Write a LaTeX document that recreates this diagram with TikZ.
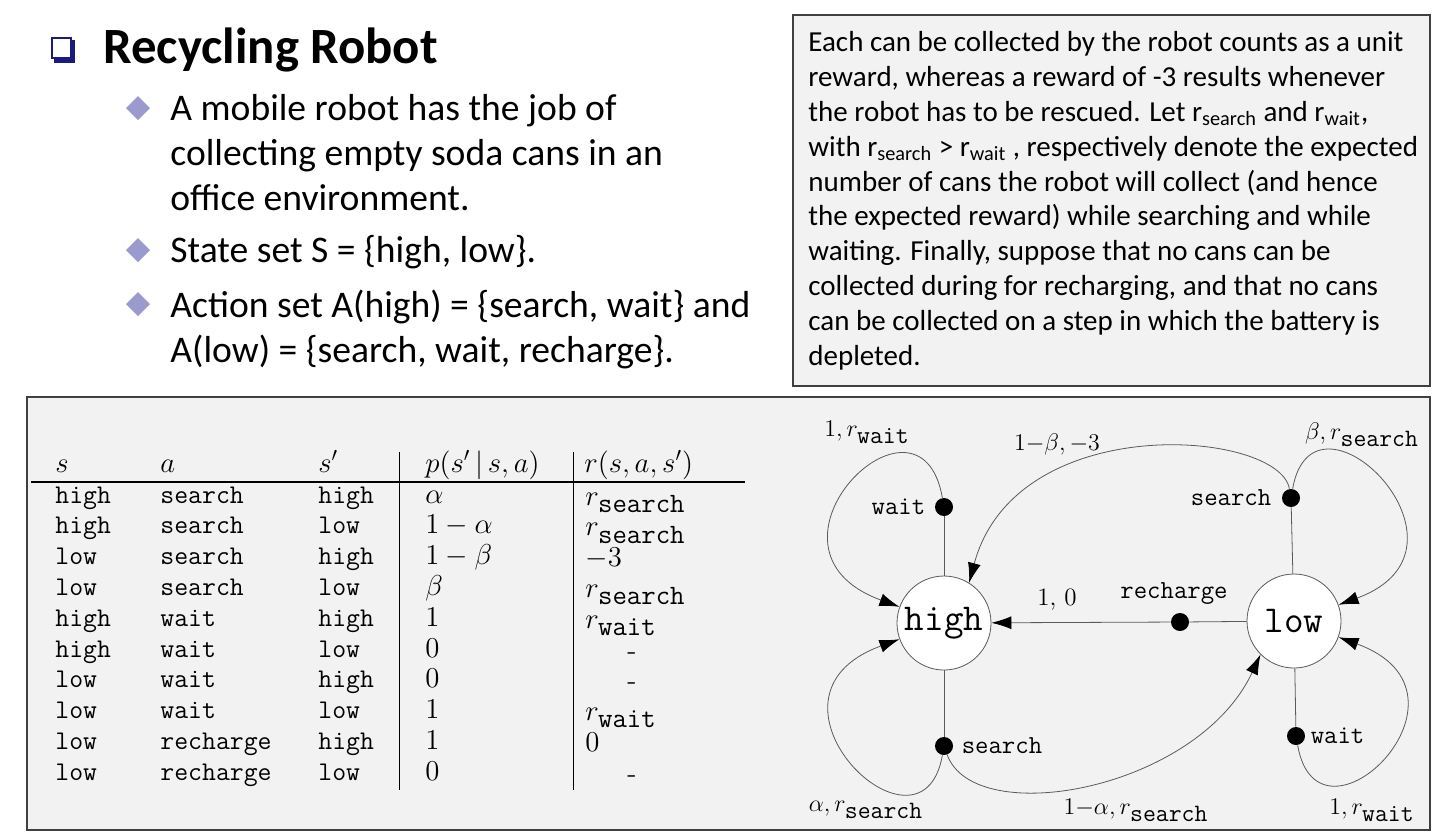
\documentclass[tikz,border=0pt]{standalone}
\usepackage{fontspec}
\newfontfamily\slidefont{Carlito}
\usetikzlibrary{arrows.meta,positioning}

\definecolor{navy}{HTML}{1A1A80}
\definecolor{lavender}{HTML}{9A9ACF}
\definecolor{panel}{HTML}{F2F2F2}
\definecolor{frame}{HTML}{404040}
\definecolor{wire}{HTML}{5A5A5A}

\tikzset{
  state/.style={circle, draw=wire, fill=white, minimum size=47pt, inner sep=0pt,
    font=\ttfamily\fontsize{19}{21}\selectfont},
  act/.style={circle, fill=black, minimum size=9pt, inner sep=0pt},
  actlabel/.style={inner sep=0pt, font=\ttfamily\fontsize{13}{15}\selectfont},
  edgelabel/.style={inner sep=0pt, font=\fontsize{12.5}{14}\selectfont},
  cell/.style={anchor=base west, inner sep=0pt, font=\ttfamily\fontsize{13.5}{15}\selectfont},
  head/.style={anchor=base west, inner sep=0pt, font=\fontsize{14}{16}\selectfont},
  item/.style={anchor=base west, inner sep=0pt, align=left, font=\slidefont\fontsize{18.8}{22.5}\selectfont},
  arr/.style={-{Latex[length=10pt,width=6.5pt,black]}},
}

\begin{document}
\begin{tikzpicture}[x=0.5pt,y=0.5pt]
  \useasboundingbox (0,0) rectangle (1440,-837);

  % title with its square bullet
  \fill[navy] (54,-40) rectangle (75,-63);
  \draw[navy, line width=1.2pt, fill=white] (52,-38) rectangle (71,-58);
  \node[anchor=base west, inner sep=0pt, font=\slidefont\bfseries\fontsize{25.4}{29}\selectfont]
    (title) at (103,-63) {Recycling Robot};

  % bullets
  \foreach \y/\name in {-108/one, -250/two, -304/three}
    \fill[lavender] (138,\y+12) -- (150,\y) -- (138,\y-12) -- (126,\y) -- cycle;
  \node[item] (itemone) at (170,-210) {A mobile robot has the job of\\collecting empty soda cans in an\\office environment.};
  \node[item] (itemtwo) at (170,-262) {State set S = \{high, low\}.};
  \node[item] (itemthree) at (170,-362) {Action set A(high) = \{search, wait\} and\\A(low) = \{search, wait, recharge\}.};

  % reward note
  \draw[frame, fill=panel, line width=0.8pt] (793,-15) rectangle (1430,-386);
  \node[anchor=base west, inner sep=0pt, align=left, font=\slidefont\fontsize{14.5}{17.39}\selectfont]
    (note) at (808,-365) {Each can be collected by the robot counts as a unit\\
      reward, whereas a reward of -3 results whenever\\
      the robot has to be rescued. Let r\textsubscript{search} and r\textsubscript{wait},\\
      with r\textsubscript{search} > r\textsubscript{wait} , respectively denote the expected\\
      number of cans the robot will collect (and hence\\
      the expected reward) while searching and while\\
      waiting. Finally, suppose that no cans can be\\
      collected during for recharging, and that no cans\\
      can be collected on a step in which the battery is\\
      depleted.};

  % lower panel
  \draw[frame, fill=panel, line width=0.8pt] (27,-397) rectangle (1430,-830);

  % table
  \node[head] (hs1) at (55,-472) {$s$};
  \node[head] (ha1) at (160,-472) {$a$};
  \node[head] (hs2) at (318,-472) {$s'$};
  \node[head] (hp) at (425,-472) {$p(s'\,|\,s,a)$};
  \node[head] (hr) at (584,-472) {$r(s,a,s')$};
  \draw[line width=0.6pt] (31,-482) -- (745,-482);
  \draw[line width=0.5pt] (399,-452) -- (399,-790);
  \draw[line width=0.5pt] (573,-452) -- (573,-790);
  \foreach \sn/\an/\tn/\pn/\rn [count=\i from 0] in {
      high/search/high/{$\alpha$}/{$r_{\texttt{search}}$},
      high/search/low/{$1-\alpha$}/{$r_{\texttt{search}}$},
      low/search/high/{$1-\beta$}/{$-3$},
      low/search/low/{$\beta$}/{$r_{\texttt{search}}$},
      high/wait/high/{$1$}/{$r_{\texttt{wait}}$},
      high/wait/low/{$0$}/{\hspace*{21pt}-},
      low/wait/high/{$0$}/{\hspace*{21pt}-},
      low/wait/low/{$1$}/{$r_{\texttt{wait}}$},
      low/recharge/high/{$1$}/{$0$},
      low/recharge/low/{$0$}/{\hspace*{21pt}-}} {
    \node[cell] (s\i) at (55,-503-30.8*\i) {\sn};
    \node[cell] (a\i) at (160,-503-30.8*\i) {\an};
    \node[cell] (t\i) at (318,-503-30.8*\i) {\tn};
    \node[cell, font=\fontsize{14}{16}\selectfont] (p\i) at (425,-503-30.8*\i) {\pn};
    \node[cell, font=\fontsize{14}{16}\selectfont] (r\i) at (585,-505-30.8*\i) {\rn};
  }

  % transition graph
  \node[state] (H) at (944,-623) {high};
  \node[state] (L) at (1294,-621) {low};
  \node[act] (hw) at (944,-507) {};
  \node[act] (hs) at (944,-746) {};
  \node[act] (ls) at (1291,-498) {};
  \node[act] (lr) at (1180,-622) {};
  \node[act] (lw) at (1296,-736) {};

  \node[actlabel, left=4.5pt of hw] (hwl) {wait};
  \node[actlabel, right=4pt of hs] (hsl) {search};
  \node[actlabel, left=5pt of ls] (lsl) {search};
  \node[actlabel, above=4pt of lr, xshift=-3pt] (lrl) {recharge};
  \node[actlabel, right=2.5pt of lw] (lwl) {wait};

  \draw[wire, thin] (H) -- (hw);
  \draw[wire, thin] (H) -- (hs);
  \draw[wire, thin] (L) -- (ls);
  \draw[wire, thin] (L) -- (lr);
  \draw[wire, thin] (L) -- (lw);

  \draw[wire, thin, arr] (hw) to[out=100, in=160, out distance=65pt, in distance=85pt] (H);
  \draw[wire, thin, arr] (hs) to[out=-100, in=200, out distance=60pt, in distance=85pt] (H);
  \draw[wire, thin, arr] (hs) to[out=-70, in=245, out distance=40pt, in distance=75pt] (L.225);
  \draw[wire, thin, arr] (ls) to[out=80, in=20, out distance=60pt, in distance=82pt] (L);
  \draw[wire, thin, arr] (ls) to[out=100, in=75, out distance=30pt, in distance=90pt] (H.58);
  \draw[wire, thin, arr] (lw) to[out=-80, in=-20, out distance=60pt, in distance=82pt] (L);
  \draw[wire, thin, arr] (lr) -- (H);

  \node[edgelabel] (e1) at (867,-432) {$1, r_{\texttt{wait}}$};
  \node[edgelabel] (e2) at (1057,-444) {$1{-}\beta, -3$};
  \node[edgelabel] (e3) at (1362,-435) {$\beta, r_{\texttt{search}}$};
  \node[edgelabel] (e4) at (1057,-600) {1, 0};
  \node[edgelabel] (e5) at (866,-810) {$\alpha, r_{\texttt{search}}$};
  \node[edgelabel] (e6) at (1136,-810) {$1{-}\alpha, r_{\texttt{search}}$};
  \node[edgelabel] (e7) at (1372,-810) {$1, r_{\texttt{wait}}$};
\end{tikzpicture}
\end{document}
